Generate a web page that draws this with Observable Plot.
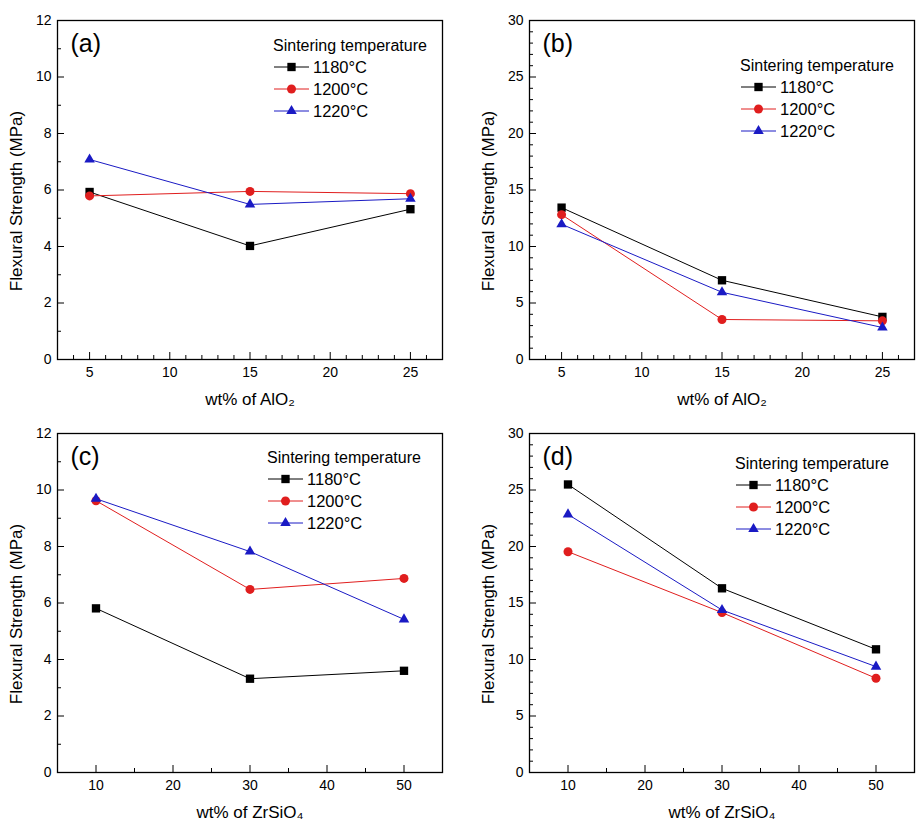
<!DOCTYPE html>
<html>
<head>
<meta charset="utf-8">
<script src="https://cdn.jsdelivr.net/npm/d3@7"></script>
<script src="https://cdn.jsdelivr.net/npm/@observablehq/plot@0.6"></script>
<style>
  html, body { margin: 0; padding: 0; background: #fff; }
  #wrap { position: relative; width: 922px; height: 826px; background: #fff; overflow: hidden; }
  #wrap svg { position: absolute; }
</style>
</head>
<body>
<div id="wrap"></div>
<script>
// ---------------- data ----------------
const temperatures = ["1180°C", "1200°C", "1220°C"];
const seriesColors = ["#000000", "#e01e1e", "#1a1ac4"];
const seriesSymbols = ["square", "circle", "triangle"];
const seriesRadius = [4.7, 4.5, 3.9];

const wtAlO2 = [5, 15, 25];
const wtZrSiO4 = [10, 30, 50];

// (a) AlO2, small scale
const a1180 = [5.93, 4.02, 5.32];
const a1200 = [5.79, 5.95, 5.87];
const a1220 = [7.08, 5.49, 5.69];
// (b) AlO2
const b1180 = [13.44, 7.01, 3.77];
const b1200 = [12.82, 3.54, 3.42];
const b1220 = [11.97, 5.95, 2.83];
// (c) ZrSiO4
const c1180 = [5.81, 3.32, 3.60];
const c1200 = [9.62, 6.48, 6.87];
const c1220 = [9.69, 7.82, 5.42];
// (d) ZrSiO4
const d1180 = [25.49, 16.30, 10.90];
const d1200 = [19.54, 14.15, 8.34];
const d1220 = [22.84, 14.38, 9.37];

// tick values
const xTicksAlO2 = [5, 10, 15, 20, 25];
const xTicksZrSiO4 = [10, 20, 30, 40, 50];
const yTicks12 = [0, 2, 4, 6, 8, 10, 12];
const yTicks30 = [0, 5, 10, 15, 20, 25, 30];

const yTitle = "Flexural Strength (MPa)";
const xTitleAlO2 = "wt% of AlO₂";
const xTitleZrSiO4 = "wt% of ZrSiO₄";
const legendTitle = "Sintering temperature";

// ---------------- panels ----------------
const font = "'Liberation Sans', Arial, Helvetica, sans-serif";

const panels = [
  {tag: "(a)", left: 0, top: 0, mL: 57, mR: 19, xs: wtAlO2, series: [a1180, a1200, a1220],
   xDomain: [3, 27], xTicks: xTicksAlO2, xMinorStep: 1, yDomain: [0, 12], yTicks: yTicks12, yMinorStep: 1,
   xTitle: xTitleAlO2, leg: [216, 25]},
  {tag: "(b)", left: 461, top: 0, mL: 68, mR: 8, xs: wtAlO2, series: [b1180, b1200, b1220],
   xDomain: [3, 27], xTicks: xTicksAlO2, xMinorStep: 1, yDomain: [0, 30], yTicks: yTicks30, yMinorStep: 1,
   xTitle: xTitleAlO2, leg: [211, 45]},
  {tag: "(c)", left: 0, top: 413, mL: 57, mR: 19, xs: wtZrSiO4, series: [c1180, c1200, c1220],
   xDomain: [5, 55], xTicks: xTicksZrSiO4, xMinorStep: 5, yDomain: [0, 12], yTicks: yTicks12, yMinorStep: 1,
   xTitle: xTitleZrSiO4, leg: [210, 24]},
  {tag: "(d)", left: 461, top: 413, mL: 68, mR: 8, xs: wtZrSiO4, series: [d1180, d1200, d1220],
   xDomain: [5, 55], xTicks: xTicksZrSiO4, xMinorStep: 5, yDomain: [0, 30], yTicks: yTicks30, yMinorStep: 1,
   xTitle: xTitleZrSiO4, leg: [206, 30]}
];

function minorTicks(domain, step, majors) {
  return d3.range(domain[0] + step, domain[1], step)
    .map(v => +v.toFixed(6))
    .filter(v => !majors.includes(v));
}

const wrap = document.getElementById("wrap");

panels.forEach(p => {
  const W = 461, H = 413, mT = 20, mB = 54;
  const xMinor = minorTicks(p.xDomain, p.xMinorStep, p.xTicks);
  const yMinor = minorTicks(p.yDomain, p.yMinorStep, p.yTicks);

  const seriesMarks = [];
  p.series.forEach((vals, i) => {
    const rows = p.xs.map((x, j) => ({x, y: vals[j]}));
    seriesMarks.push(Plot.line(rows, {x: "x", y: "y", stroke: seriesColors[i], strokeWidth: 1}));
    seriesMarks.push(Plot.dot(rows, {x: "x", y: "y", symbol: seriesSymbols[i], r: seriesRadius[i],
      fill: seriesColors[i], stroke: "none"}));
  });

  const svg = Plot.plot({
    width: W, height: H,
    marginLeft: p.mL, marginRight: p.mR, marginTop: mT, marginBottom: mB,
    style: {fontFamily: font, background: "#fff", color: "#000", overflow: "visible"},
    x: {domain: p.xDomain},
    y: {domain: p.yDomain},
    marks: [
      Plot.axisX(xMinor, {tickSize: -4, tickFormat: () => "", label: null, strokeWidth: 1}),
      Plot.axisX(p.xTicks, {tickSize: -7, tickFormat: () => "", label: null, strokeWidth: 1}),
      Plot.axisX(p.xTicks, {tickSize: 0, tickPadding: 8, fontSize: 14, label: null}),
      Plot.axisY(yMinor, {tickSize: -4, tickFormat: () => "", label: null, strokeWidth: 1}),
      Plot.axisY(p.yTicks, {tickSize: -7, tickFormat: () => "", label: null, strokeWidth: 1}),
      Plot.axisY(p.yTicks, {tickSize: 0, tickPadding: 6, fontSize: 14, label: null}),
      Plot.frame({stroke: "#000", strokeWidth: 1.3}),
      ...seriesMarks,
      Plot.text([p.xTitle], {frameAnchor: "bottom", dy: 40, fontSize: 17, fill: "#000", textAnchor: "middle", lineAnchor: "middle"}),
      Plot.text([yTitle], {frameAnchor: "left", dx: -41, dy: 11, rotate: -90, fontSize: 17, fill: "#000", textAnchor: "middle", lineAnchor: "middle"}),
      Plot.text([p.tag], {frameAnchor: "top-left", dx: 13, dy: 23, fontSize: 25, textAnchor: "start", lineAnchor: "middle", fill: "#000"})
    ]
  });

  svg.style.left = p.left + "px";
  svg.style.top = p.top + "px";

  // legend (inside frame, top right)
  const g = d3.select(svg).append("g")
    .attr("transform", `translate(${p.mL + p.leg[0]},${mT + p.leg[1]})`)
    .attr("font-family", font)
    .attr("text-anchor", "start");
  g.append("text").attr("x", 0).attr("y", 0).attr("dy", "0.35em")
    .attr("text-anchor", "start")
    .attr("font-size", 16).attr("fill", "#000").text(legendTitle);
  temperatures.forEach((t, i) => {
    const y = 22 * (i + 1);
    g.append("line").attr("x1", 1).attr("x2", 36).attr("y1", y).attr("y2", y)
      .attr("stroke", seriesColors[i]).attr("stroke-width", 1);
    const sym = {square: d3.symbolSquare, circle: d3.symbolCircle, triangle: d3.symbolTriangle}[seriesSymbols[i]];
    g.append("path")
      .attr("d", d3.symbol(sym, Math.PI * seriesRadius[i] * seriesRadius[i])())
      .attr("transform", `translate(18.5,${y})`)
      .attr("fill", seriesColors[i]);
    g.append("text").attr("x", 40).attr("y", y).attr("dy", "0.35em")
      .attr("text-anchor", "start")
      .attr("font-size", 16.5).attr("fill", "#000").text(t);
  });

  wrap.appendChild(svg);
});
</script>
</body>
</html>
